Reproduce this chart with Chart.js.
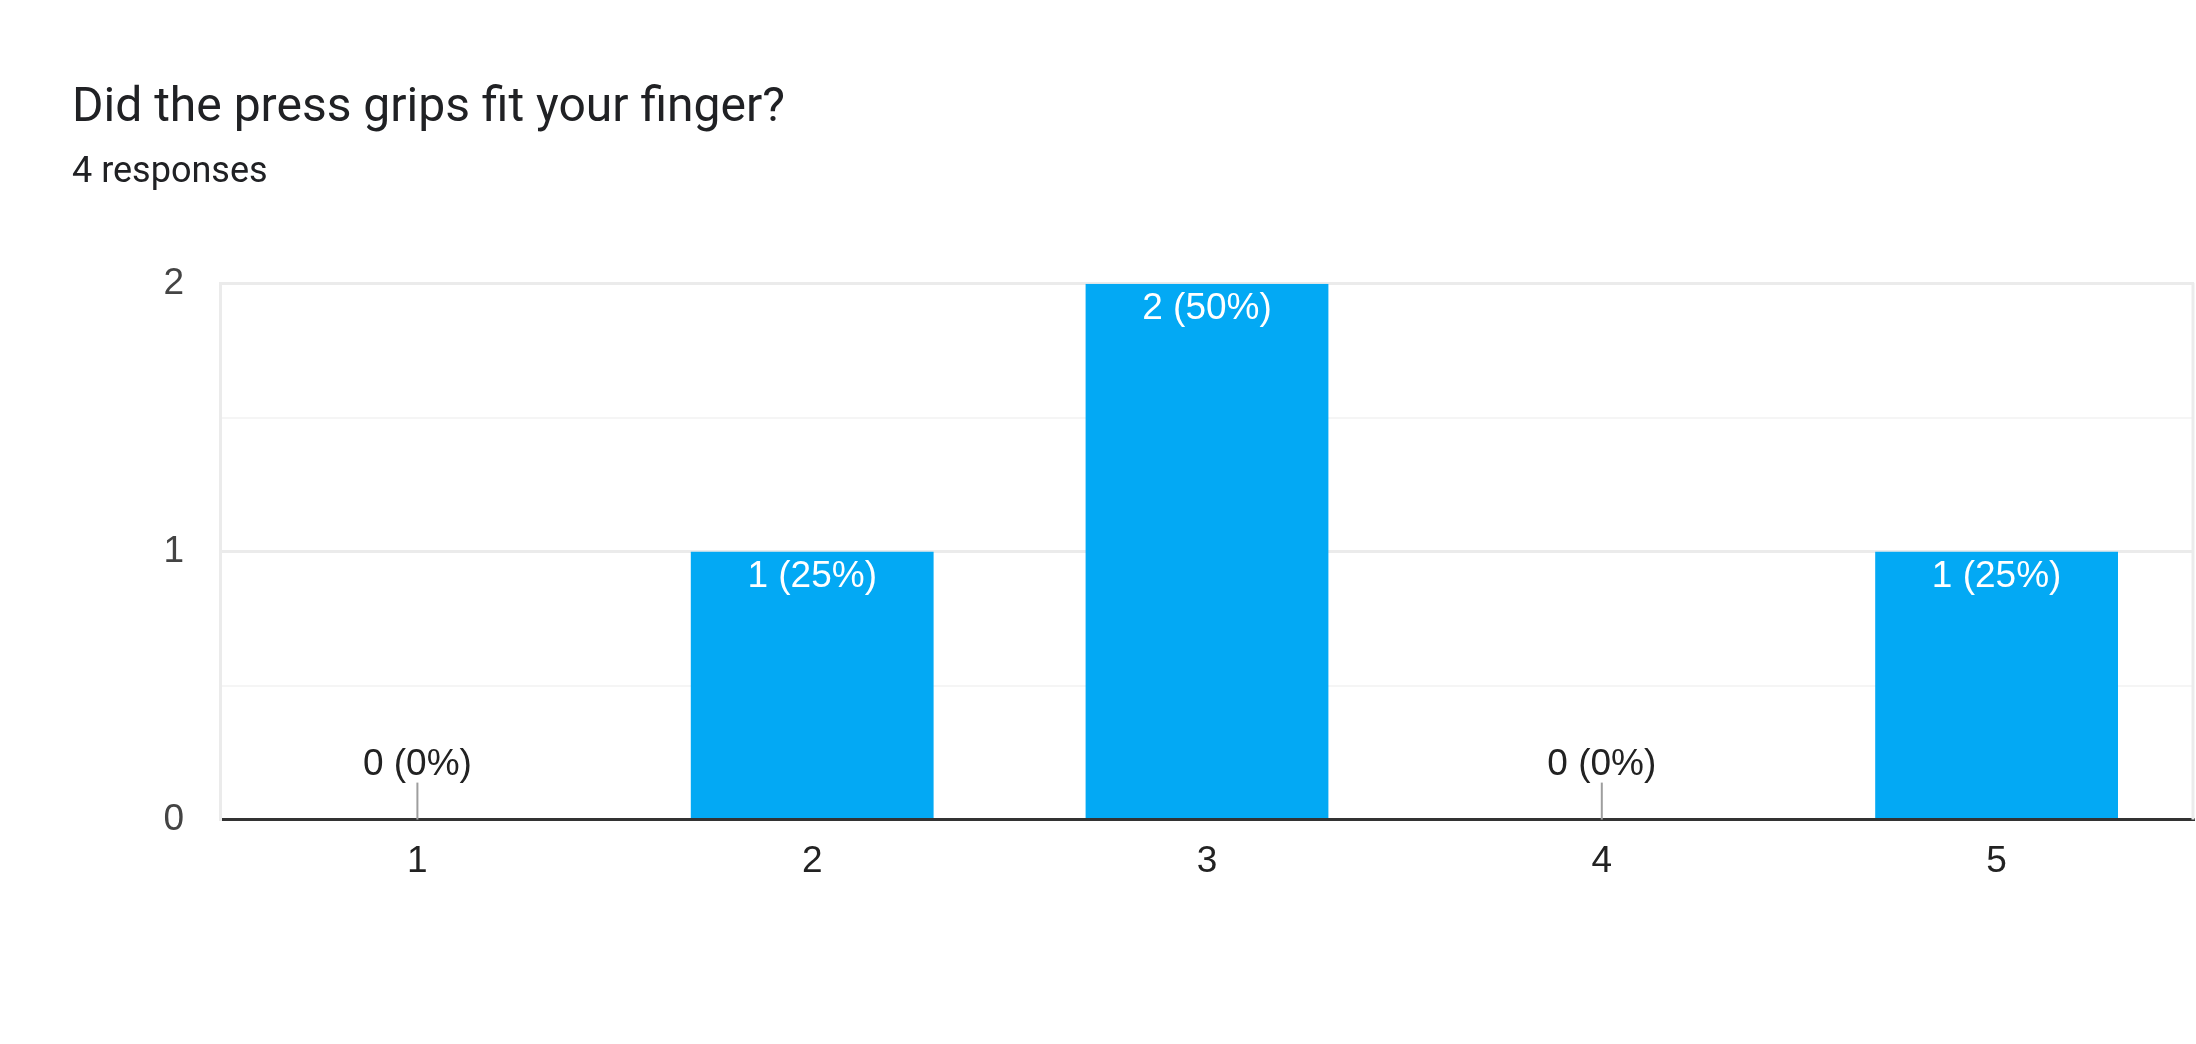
<!DOCTYPE html>
<html>
<head>
<meta charset="utf-8">
<script src="https://cdn.jsdelivr.net/npm/chart.js@4.4.1/dist/chart.umd.min.js"></script>
<style>
  html, body { margin: 0; padding: 0; background: #fff; }
  #wrap { width: 2196px; height: 1044px; position: relative; }
</style>
</head>
<body>
<div id="wrap"><canvas id="myChart"></canvas></div>
<script>
  var categories = ['1', '2', '3', '4', '5'];
  var counts = [0, 1, 2, 0, 1];
  var percents = [0, 25, 50, 0, 25];
  var yTicks = [0, 1, 2];

  var chartFont = "'Liberation Sans', Arial, sans-serif";

  // value labels on top of / inside bars
  var barLabels = {
    id: 'barLabels',
    afterDatasetsDraw: function (chart) {
      var ctx = chart.ctx;
      var meta = chart.getDatasetMeta(0);
      ctx.save();
      ctx.font = '37px ' + chartFont;
      ctx.textAlign = 'center';
      ctx.textBaseline = 'middle';
      meta.data.forEach(function (bar, i) {
        var txt = counts[i] + ' (' + percents[i] + '%)';
        if (counts[i] > 0) {
          ctx.fillStyle = '#ffffff';
          ctx.fillText(txt, bar.x, bar.y + 25);
        } else {
          var base = chart.scales.y.getPixelForValue(0);
          ctx.strokeStyle = '#9e9e9e';
          ctx.lineWidth = 2;
          ctx.beginPath();
          ctx.moveTo(bar.x, base);
          ctx.lineTo(bar.x, base - 37);
          ctx.stroke();
          ctx.fillStyle = '#222222';
          ctx.fillText(txt, bar.x, base - 55);
        }
      });
      // right frame line
      var a = chart.chartArea;
      ctx.strokeStyle = '#ebebeb';
      ctx.lineWidth = 3;
      ctx.beginPath();
      ctx.moveTo(a.right - 1, a.top - 1);
      ctx.lineTo(a.right - 1, a.bottom);
      ctx.stroke();
      ctx.restore();
    }
  };

  var ctx = document.getElementById('myChart').getContext('2d');
  var myChart = new Chart(ctx, {
    type: 'bar',
    data: {
      labels: categories,
      datasets: [{
        data: counts,
        backgroundColor: '#03a9f4',
        barPercentage: 0.615,
        categoryPercentage: 1
      }]
    },
    options: {
      responsive: true,
      maintainAspectRatio: false,
      animation: false,
      layout: { padding: { left: 72, right: 2, top: 0, bottom: 140 } },
      plugins: {
        legend: { display: false },
        tooltip: { enabled: false },
        title: {
          display: true,
          text: 'Did the press grips fit your finger?',
          align: 'start',
          color: '#202124',
          font: { family: 'Roboto', size: 48, weight: 'normal', lineHeight: 1.2 },
          padding: { top: 80, bottom: 0 }
        },
        subtitle: {
          display: true,
          text: '4 responses',
          align: 'start',
          color: '#202124',
          font: { family: 'Roboto', size: 36, weight: 'normal', lineHeight: 1.2 },
          padding: { top: 14, bottom: 89 }
        }
      },
      scales: {
        x: {
          grid: { display: false, drawTicks: false },
          border: { display: true, color: '#333333', width: 3 },
          ticks: { color: '#222222', padding: 20, font: { family: chartFont, size: 37 } }
        },
        y: {
          min: 0,
          max: 2,
          afterFit: function (scale) { scale.width = 148; },
          ticks: {
            stepSize: 0.5,
            padding: 36,
            color: '#444444',
            font: { family: chartFont, size: 37 },
            callback: function (v) { return yTicks.indexOf(v) >= 0 ? String(v) : ''; }
          },
          grid: {
            drawTicks: false,
            color: function (c) { return c.tick.value % 1 === 0 ? '#ebebeb' : '#f5f5f5'; },
            lineWidth: function (c) { return c.tick.value % 1 === 0 ? 3 : 2; }
          },
          border: { display: true, color: '#ebebeb', width: 3 }
        }
      }
    },
    plugins: [barLabels]
  });
</script>
</body>
</html>
